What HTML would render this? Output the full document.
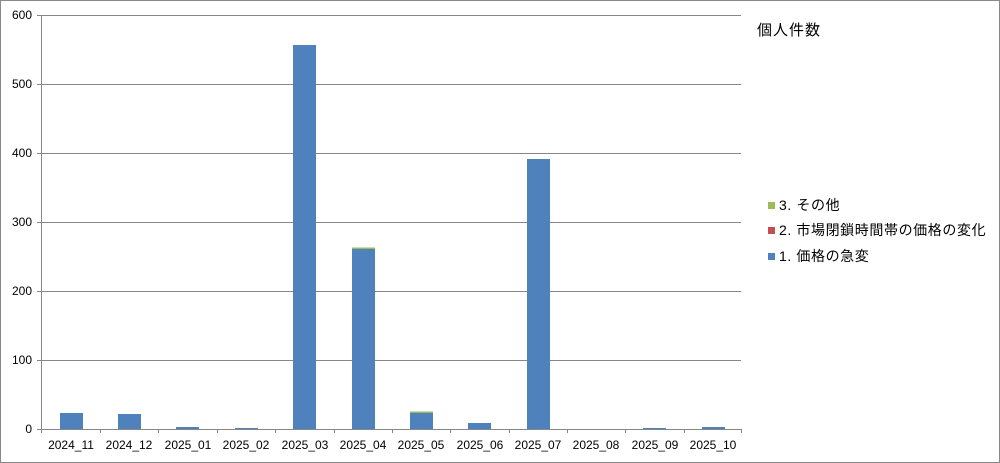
<!DOCTYPE html>
<html><head><meta charset="utf-8"><style>
html,body{margin:0;padding:0;background:#fff}
svg{display:block}
text{font-family:"Liberation Sans","Noto Sans CJK JP",sans-serif;font-size:12px;fill:#000}
</style></head><body>
<svg width="1000" height="463" viewBox="0 0 1000 463">
<rect x="0.5" y="0.5" width="999" height="462" fill="#fff" stroke="#888"/>
<g stroke="#878787" stroke-width="1">
<line x1="42" y1="15.5" x2="741" y2="15.5"/>
<line x1="42" y1="84.5" x2="741" y2="84.5"/>
<line x1="42" y1="153.5" x2="741" y2="153.5"/>
<line x1="42" y1="222.5" x2="741" y2="222.5"/>
<line x1="42" y1="291.5" x2="741" y2="291.5"/>
<line x1="42" y1="360.5" x2="741" y2="360.5"/>
<line x1="42" y1="429.5" x2="741" y2="429.5"/>
<line x1="41.5" y1="15" x2="41.5" y2="433"/>
<line x1="37" y1="15.5" x2="42" y2="15.5"/><line x1="37" y1="84.5" x2="42" y2="84.5"/><line x1="37" y1="153.5" x2="42" y2="153.5"/><line x1="37" y1="222.5" x2="42" y2="222.5"/><line x1="37" y1="291.5" x2="42" y2="291.5"/><line x1="37" y1="360.5" x2="42" y2="360.5"/><line x1="37" y1="429.5" x2="42" y2="429.5"/>
<line x1="100.5" y1="429" x2="100.5" y2="433"/><line x1="158.5" y1="429" x2="158.5" y2="433"/><line x1="217.5" y1="429" x2="217.5" y2="433"/><line x1="275.5" y1="429" x2="275.5" y2="433"/><line x1="334.5" y1="429" x2="334.5" y2="433"/><line x1="392.5" y1="429" x2="392.5" y2="433"/><line x1="450.5" y1="429" x2="450.5" y2="433"/><line x1="509.5" y1="429" x2="509.5" y2="433"/><line x1="567.5" y1="429" x2="567.5" y2="433"/><line x1="625.5" y1="429" x2="625.5" y2="433"/><line x1="684.5" y1="429" x2="684.5" y2="433"/><line x1="741.5" y1="429" x2="741.5" y2="433"/>
</g>
<g text-anchor="end">
<text x="32" y="19">600</text><text x="32" y="88">500</text><text x="32" y="157">400</text><text x="32" y="226">300</text><text x="32" y="295">200</text><text x="32" y="364">100</text><text x="32" y="433">0</text>
</g>
<g fill="#4f81bd">
<rect x="60" y="413" width="23" height="16"/>
<rect x="118" y="414" width="23" height="15"/>
<rect x="176" y="427" width="23" height="2"/>
<rect x="235" y="428" width="23" height="1"/>
<rect x="293" y="45" width="23" height="384"/>
<rect x="352" y="249" width="23" height="180"/>
<rect x="410" y="413" width="23" height="16"/>
<rect x="468" y="423" width="23" height="6"/>
<rect x="527" y="159" width="23" height="270"/>
<rect x="643" y="428" width="23" height="1"/>
<rect x="702" y="427" width="23" height="2"/>
</g>
<rect x="352" y="247.5" width="23" height="1.5" fill="#9bbb59"/>
<rect x="410" y="411.5" width="23" height="1.5" fill="#9bbb59"/>
<g text-anchor="middle">
<text x="71" y="449">2024_11</text><text x="129" y="449">2024_12</text><text x="188" y="449">2025_01</text><text x="246" y="449">2025_02</text><text x="305" y="449">2025_03</text><text x="363" y="449">2025_04</text><text x="421" y="449">2025_05</text><text x="480" y="449">2025_06</text><text x="538" y="449">2025_07</text><text x="596" y="449">2025_08</text><text x="655" y="449">2025_09</text><text x="713" y="449">2025_10</text>
</g>
<text x="757" y="35" style="font-size:15px;letter-spacing:1px">個人件数</text>
<rect x="768" y="202" width="7" height="7" fill="#9bbb59"/>
<text x="779" y="210" style="font-size:14px;letter-spacing:0.6px">3. その他</text>
<rect x="768" y="227" width="7" height="7" fill="#c0504d"/>
<text x="779" y="235" style="font-size:14px;letter-spacing:0.6px">2. 市場閉鎖時間帯の価格の変化</text>
<rect x="768" y="253" width="7" height="7" fill="#4f81bd"/>
<text x="779" y="261" style="font-size:14px;letter-spacing:0.6px">1. 価格の急変</text>
</svg>
</body></html>
